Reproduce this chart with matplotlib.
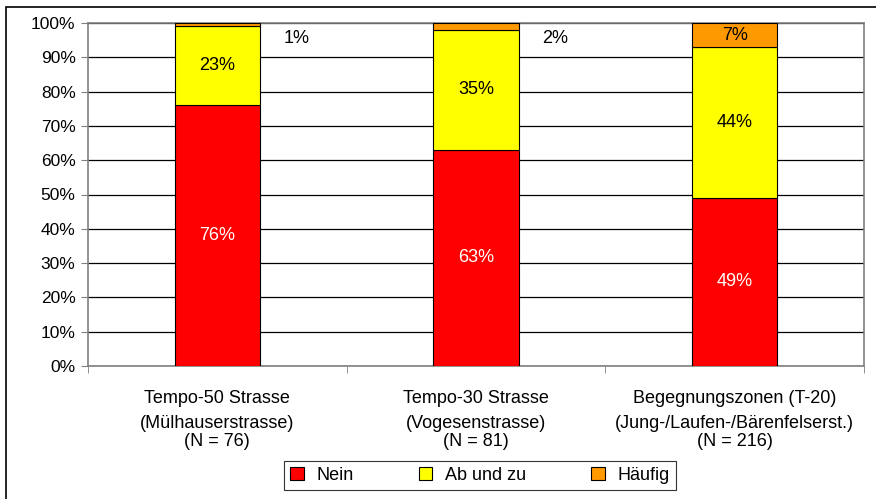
import matplotlib.pyplot as plt
from matplotlib.patches import Rectangle
import numpy as np

plt.rcParams['font.family'] = ['Liberation Sans', 'DejaVu Sans']

# Daten
namen = ['Tempo-50 Strasse', 'Tempo-30 Strasse', 'Begegnungszonen (T-20)']
strassen = ['(Mülhauserstrasse)', '(Vogesenstrasse)', '(Jung-/Laufen-/Bärenfelserst.)']
stichprobe = ['(N = 76)', '(N = 81)', '(N = 216)']
nein = [76, 63, 49]
ab_und_zu = [23, 35, 44]
haeufig = [1, 2, 7]
serien = ['Nein', 'Ab und zu', 'Häufig']
farben = ['#FF0000', '#FFFF00', '#FF9900']

fig = plt.figure(figsize=(8.76, 4.99), dpi=100)
ax = fig.add_axes([88/876, 1-366/499, (864-88)/876, (366-23)/499])

x = np.arange(len(namen))
breite = 0.33
unten = np.zeros(len(namen))
for name, werte, farbe in zip(serien, [nein, ab_und_zu, haeufig], farben):
    werte = np.array(werte, dtype=float)
    ax.bar(x, werte, breite, bottom=unten, color=farbe, edgecolor='black',
           linewidth=0.8, label=name, zorder=3)
    for i, w in enumerate(werte):
        txtfarbe = 'white' if farbe == '#FF0000' else 'black'
        if w < 5:
            ax.text(x[i] + breite/2 + 0.14, unten[i] + w - 4.5, f'{w:.0f}%',
                    ha='center', va='center', fontsize=13, color='black')
        else:
            ax.text(x[i], unten[i] + w/2, f'{w:.0f}%', ha='center', va='center',
                    fontsize=13, color=txtfarbe, zorder=4)
    unten += werte

ax.set_xlim(-0.5, len(namen) - 0.5)
ax.set_ylim(0, 100)
ax.set_yticks(np.arange(0, 101, 10))
ax.set_yticklabels([f'{v}%' for v in range(0, 101, 10)], fontsize=12.5)
ax.yaxis.grid(True, color='black', linewidth=0.9, zorder=0)
ax.set_xticks([])
ax.set_xticks(np.arange(-0.5, len(namen)), minor=True)
ax.tick_params(axis='x', which='minor', length=5, color='#808080')
ax.tick_params(axis='y', length=5, color='#808080', pad=4)
for s in ax.spines.values():
    s.set_color('#808080')
    s.set_linewidth(1.2)

# Kategorienbeschriftung (drei Zeilen)
trans = ax.get_xaxis_transform()
for i in range(len(namen)):
    for txt, py in zip([namen[i], strassen[i], stichprobe[i]], [403, 428, 446]):
        ax.text(x[i], (366 - py) / 343, txt, transform=trans, ha='center',
                va='baseline', fontsize=13, clip_on=False)

leg = ax.legend(loc='center', bbox_to_anchor=(480/876, 1-475.5/499),
                bbox_transform=fig.transFigure, ncol=3, fontsize=13,
                frameon=True, fancybox=False, edgecolor='black',
                handlelength=0.75, handleheight=0.75, columnspacing=3.6,
                borderpad=0.35, handletextpad=0.7, borderaxespad=0)
leg.get_frame().set_linewidth(0.8)

# Rahmen um die ganze Grafik
fig.patches.append(Rectangle((6/876, -0.1), 1.2, 1 - 7/499 + 0.1,
                             transform=fig.transFigure, fill=False,
                             edgecolor='black', linewidth=1.2))

fig.savefig('out.png', dpi=100)
